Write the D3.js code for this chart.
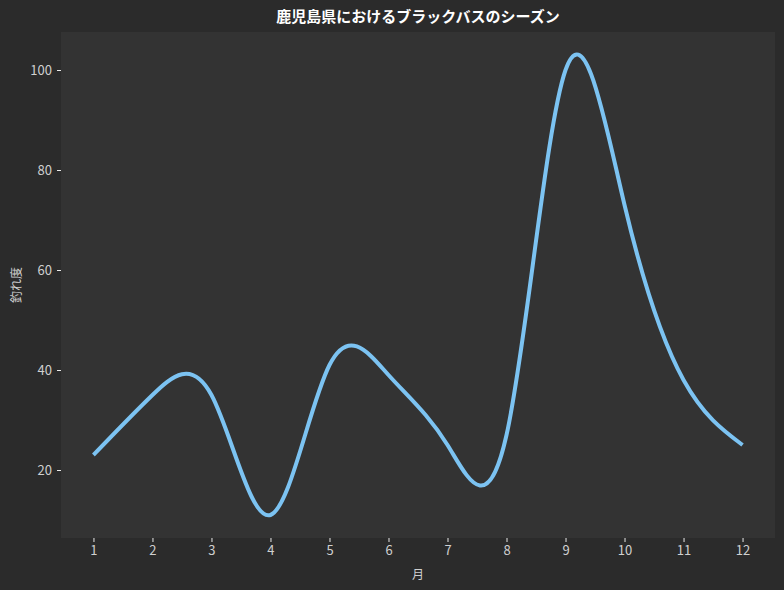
<!DOCTYPE html>
<html>
<head>
<meta charset="utf-8">
<script src="https://cdn.jsdelivr.net/npm/d3@7"></script>
<style>
  body { margin: 0; background: #2b2b2b; }
  svg { display: block; font-family: "Noto Sans CJK JP", "Noto Sans", sans-serif; }
</style>
</head>
<body>
<svg width="784" height="590"></svg>
<script>
// ~~~~~~ DATA ~~~~~~
var months = [1, 2, 3, 4, 5, 6, 7, 8, 9, 10, 11, 12];
var catchScore = [23, 35, 35, 11, 41, 39, 25, 27, 100, 73, 38, 25];
var yTicks = [20, 40, 60, 80, 100];
var title = "鹿児島県におけるブラックバスのシーズン";
var xLabel = "月";
var yLabel = "釣れ度";

// ~~~~~~ SVG ~~~~~~
var svg = d3.select("svg"),
    margin = {top: 32, right: 9, bottom: 52, left: 61},
    width = +svg.attr("width") - margin.left - margin.right,
    height = +svg.attr("height") - margin.top - margin.bottom;

svg.append("rect")
   .attr("width", 784).attr("height", 590)
   .attr("fill", "#2b2b2b");

var g = svg.append("g")
   .attr("transform", "translate(" + margin.left + "," + margin.top + ")");

g.append("rect")
 .attr("width", width).attr("height", height)
 .attr("fill", "#333333");

// ~~~~~~ SCALES ~~~~~~
var x = d3.scaleLinear().domain([0.45, 12.55]).range([0, width]);
var y = d3.scaleLinear().domain([6.4, 107.6]).range([height, 0]);

// ~~~~~~ AXES ~~~~~~
var xAxis = g.append("g")
   .attr("transform", "translate(0," + height + ")")
   .call(d3.axisBottom(x).tickValues(months).tickFormat(d3.format("d")).tickSize(4).tickPadding(4));

var yAxis = g.append("g")
   .call(d3.axisLeft(y).tickValues(yTicks).tickSize(4).tickPadding(5));

[xAxis, yAxis].forEach(function(ax) {
  ax.select(".domain").remove();
  ax.selectAll("line").attr("stroke", "#e8e8e8").attr("stroke-width", 1);
  ax.selectAll("text")
    .attr("fill", "#d0d0d0")
    .style("font-size", "13px")
    .style("font-family", "'Noto Sans CJK JP', sans-serif");
});

// ~~~~~~ LINE ~~~~~~
var line = d3.line()
   .x(function(d, i) { return x(months[i]); })
   .y(function(d) { return y(d); })
   .curve(d3.curveNatural);

g.append("path")
 .datum(catchScore)
 .attr("fill", "none")
 .attr("stroke", "#7cc3f2")
 .attr("stroke-width", 4)
 .attr("stroke-linecap", "butt")
 .attr("d", line);

// ~~~~~~ LABELS ~~~~~~
svg.append("text")
   .attr("x", margin.left + width / 2)
   .attr("y", 22)
   .attr("text-anchor", "middle")
   .attr("fill", "#ffffff")
   .style("font-size", "15px")
   .style("font-weight", "bold")
   .text(title);

svg.append("text")
   .attr("x", margin.left + width / 2)
   .attr("y", 579)
   .attr("text-anchor", "middle")
   .attr("fill", "#d0d0d0")
   .style("font-size", "12px")
   .text(xLabel);

svg.append("text")
   .attr("transform", "translate(21," + (margin.top + height / 2) + ") rotate(-90)")
   .attr("text-anchor", "middle")
   .attr("fill", "#d0d0d0")
   .style("font-size", "12px")
   .text(yLabel);
</script>
</body>
</html>
